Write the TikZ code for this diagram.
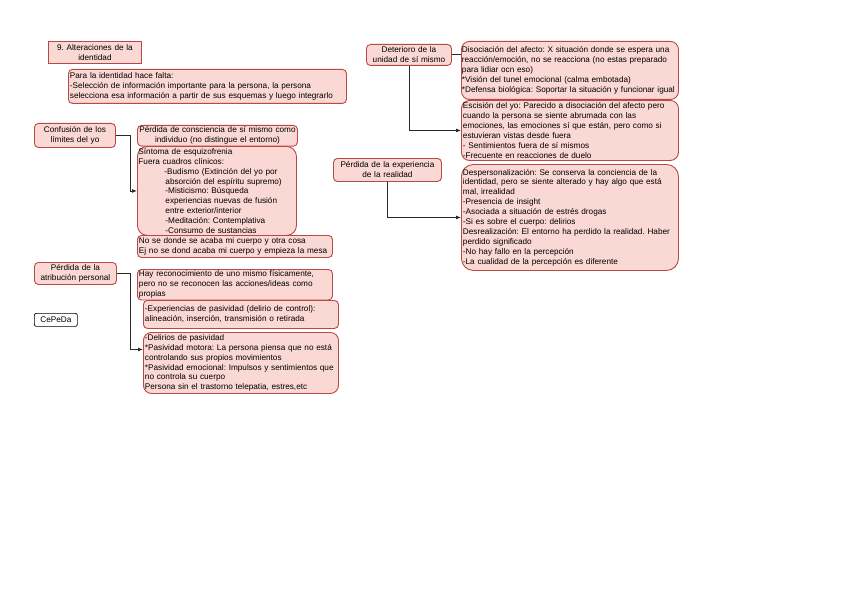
\documentclass[tikz,border=0pt]{standalone}
\usepackage{fontspec}
\setmainfont{Liberation Sans}
\usetikzlibrary{arrows.meta}
\definecolor{boxfill}{RGB}{250,216,212}
\definecolor{boxline}{RGB}{186,72,68}
\definecolor{linkline}{RGB}{40,40,40}
\begin{document}
\begin{tikzpicture}[x=1pt, y=-1pt,
  every node/.style={draw=boxline, fill=boxfill, line width=0.9pt, rounded corners=4pt, anchor=north west, inner sep=1.5pt, font=\fontsize{8.2}{9.9}\selectfont\frenchspacing},
  lbox/.style 2 args={text width=#1-3pt, minimum height=#2, align=left},
  cbox/.style 2 args={text width=#1-3pt, minimum height=#2, align=center},
  link/.style={draw=linkline, line width=0.9pt, -{Latex[length=5pt,width=4pt]}}]
  \useasboundingbox (0,0) rectangle (848,599);

  \node[cbox={93pt}{22pt}, sharp corners] (title) at (48,41) {9. Alteraciones de la\\identidad};
  \node[lbox={278pt}{34pt}] (falta) at (68,69) {Para la identidad hace falta:\\-Selección de información importante para la persona, la persona\\selecciona esa información a partir de sus esquemas y luego integrarlo};

  \node[cbox={81pt}{24pt}] (limites) at (34,123) {Confusión de los\\límites del yo};
  \node[cbox={160pt}{20pt}] (consc) at (137,125) {Pérdida de consciencia de sí mismo como\\individuo (no distingue el entorno)};
  \node[lbox={160pt}{89pt}, rounded corners=10pt, inner sep=1pt] (esquizo) at (137,146) {Síntoma de esquizofrenia\\Fuera cuadros clínicos:\\\hspace*{26pt}-Budismo (Extinción del yo por\\\hspace*{27pt}absorción del espíritu supremo)\\\hspace*{27pt}-Misticismo: Búsqueda\\\hspace*{27pt}experiencias nuevas de fusión\\\hspace*{27pt}entre exterior/interior\\\hspace*{27pt}-Meditación: Contemplativa\\\hspace*{27pt}-Consumo de sustancias};
  \node[lbox={195pt}{22pt}] (cuerpo) at (137,235) {No se donde se acaba mi cuerpo y otra cosa\\Ej no se dond acaba mi cuerpo y empieza la mesa};

  \node[cbox={82pt}{22pt}] (atrib) at (34,262) {Pérdida de la\\atribución personal};
  \node[lbox={195pt}{28pt}] (recon) at (137,269) {Hay reconocimiento de uno mismo físicamente,\\pero no se reconocen las acciones/ideas como\\propias};
  \node[lbox={195pt}{28pt}] (control) at (143,300) {-Experiencias de pasividad (delirio de control):\\alineación, inserción, transmisión o retirada};
  \node[lbox={195pt}{61pt}, rounded corners=8pt] (pasiv) at (143,332) {-Delirios de pasividad\\{}*Pasividad motora: La persona piensa que no está\\controlando sus propios movimientos\\{}*Pasividad emocional: Impulsos y sentimientos que\\no controla su cuerpo\\Persona sin el trastorno telepatia, estres,etc};
  \node[cbox={43pt}{13pt}, draw=black, fill=white, rounded corners=2pt, line width=0.7pt] (cepeda) at (34,313) {CePeDa};

  \node[cbox={85pt}{21pt}] (unidad) at (366,44) {Deterioro de la\\unidad de sí mismo};
  \node[lbox={219pt}{58pt}, rounded corners=8pt, inner sep=0.5pt] (afecto) at (461,41) {Disociación del afecto: X situación donde se espera una\\reacción/emoción, no se reacciona (no estas preparado\\para lidiar ocn eso)\\{}*Visión del tunel emocional (calma embotada)\\{}*Defensa biológica: Soportar la situación y funcionar igual};
  \node[lbox={217pt}{60pt}, rounded corners=8pt] (escision) at (461,100) {Escisión del yo: Parecido a disociación del afecto pero\\cuando la persona se siente abrumada con las\\emociones, las emociones sí que están, pero como si\\estuvieran vistas desde fuera\\- Sentimientos fuera de sí mismos\\-Frecuente en reacciones de duelo};

  \node[cbox={108pt}{23pt}] (realidad) at (333,158) {Pérdida de la experiencia\\de la realidad};
  \node[lbox={217pt}{106pt}, rounded corners=12pt] (despers) at (461,164) {Despersonalización: Se conserva la conciencia de la\\identidad, pero se siente alterado y hay algo que está\\mal, irrealidad\\-Presencia de insight\\-Asociada a situación de estrés drogas\\-Si es sobre el cuerpo: delirios\\Desrealización: El entorno ha perdido la realidad. Haber\\perdido significado\\-No hay fallo en la percepción\\-La cualidad de la percepción es diferente};

  \draw[link] (limites.east) -- ++(15,0) |- (esquizo.west);
  \draw[link] (atrib.east) -- ++(14,0) |- ([yshift=13.5pt]pasiv.west);
  \draw[link, -] (unidad.east) -- (afecto.west |- unidad.east);
  \draw[link] (unidad.south) |- (escision.west);
  \draw[link] (realidad.south) |- (despers.west);
\end{tikzpicture}
\end{document}
